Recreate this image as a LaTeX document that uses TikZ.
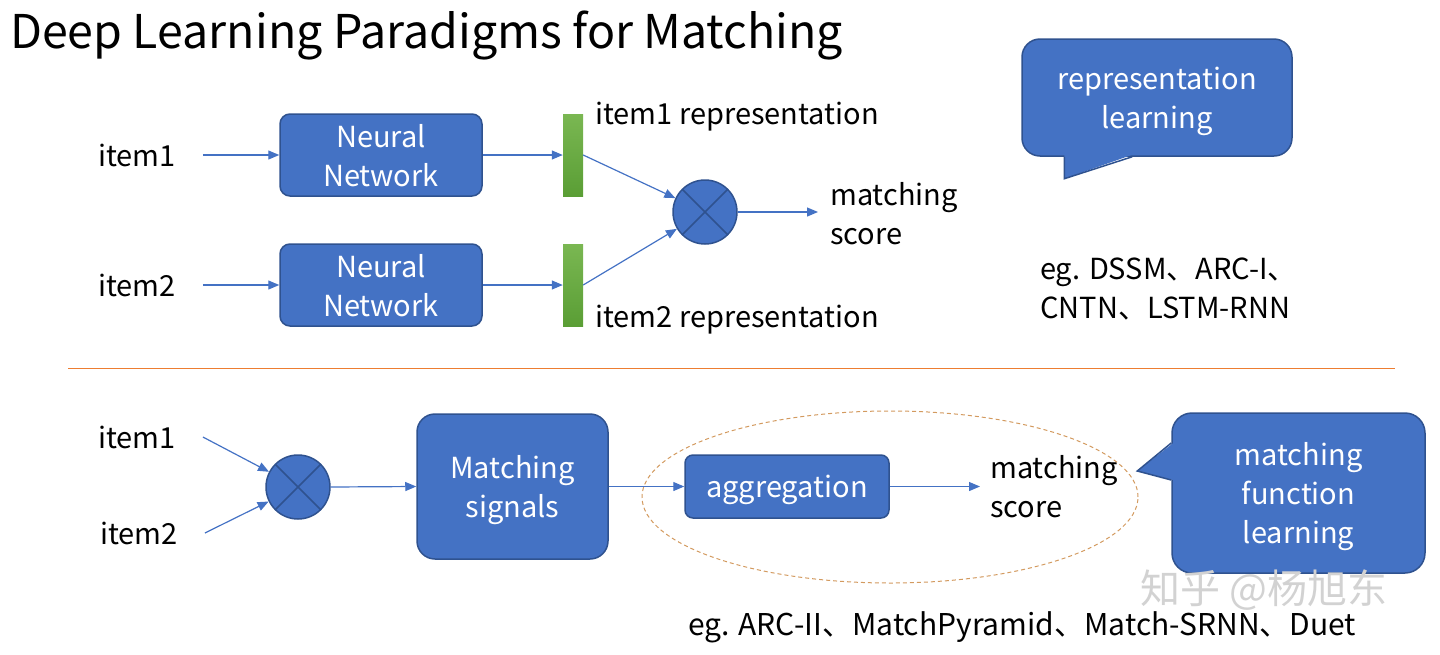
\documentclass[tikz,border=0pt]{standalone}
\usepackage{fontspec}
\setmainfont{Noto Sans CJK SC}
\usetikzlibrary{arrows.meta,calc,shapes.geometric}
\definecolor{boxblue}{HTML}{4472C4}
\definecolor{boxedge}{HTML}{2F528F}
\definecolor{barlight}{HTML}{7AB752}
\definecolor{bardark}{HTML}{5A9E35}
\definecolor{sepline}{HTML}{ED7D31}
\definecolor{zoneline}{HTML}{D39A5F}

\begin{document}
\begin{tikzpicture}[
    x=1pt, y=-1pt,
    txt/.style={inner sep=0pt, font=\fontsize{29}{39}\selectfont, align=left},
    box/.style={draw=boxedge, line width=1.5pt, fill=boxblue, rounded corners=10pt, text=white, align=center, font=\fontsize{29}{39}\selectfont, inner sep=0pt, text depth=0pt},
    bar/.style={top color=barlight, bottom color=bardark, draw=none, minimum width=20pt, minimum height=82pt, inner sep=0pt},
    mult/.style={circle, draw=boxedge, line width=1.5pt, fill=boxblue, minimum size=64pt, inner sep=0pt,
        path picture={\draw[boxedge, line width=1.5pt] (path picture bounding box.north west) -- (path picture bounding box.south east)
        (path picture bounding box.north east) -- (path picture bounding box.south west);}},
    arrow/.style={draw=boxblue, line width=1.2pt, -{Triangle[length=11pt,width=9pt]}}
]
\useasboundingbox (0,0) rectangle (1440,654);

% Title
\node[txt, anchor=base west, font=\fontsize{46.5}{56}\selectfont] (title) at (10,48) {Deep Learning Paradigms for Matching};

% Representation learning
\node[txt, anchor=west] (itema1) at (98,155) {item1};
\node[txt, anchor=west] (itema2) at (98,285) {item2};
\node[box, minimum width=202pt, minimum height=82pt] (nna1) at (381,155) {Neural\\Network};
\node[box, minimum width=202pt, minimum height=82pt] (nna2) at (381,285) {Neural\\Network};
\node[bar] (bara1) at (573,155) {};
\node[bar] (bara2) at (573,285) {};
\node[txt, anchor=west] (repa1) at (595,117) {item1 representation};
\node[txt, anchor=west] (repa2) at (595,320) {item2 representation};
\node[mult] (multa) at (705,212) {};
\node[txt, anchor=west] (scorea) at (830,214) {matching\\score};

\draw[arrow] ([xshift=27pt]itema1.east) -- (nna1.west);
\draw[arrow] ([xshift=27pt]itema2.east) -- (nna2.west);
\draw[arrow] (nna1.east) -- (bara1.west);
\draw[arrow] (nna2.east) -- (bara2.west);
\draw[arrow] (bara1.east) -- (multa);
\draw[arrow] (bara2.east) -- (multa);
\draw[arrow] (multa.east) -- ([xshift=-12pt]scorea.west |- multa.east);

% Callout
\node[box, rounded corners=18pt, minimum width=270pt, minimum height=117pt] (replearn) at (1157,97.5) {representation\\learning};
\fill[boxblue] ($(replearn.south west)+(43,-2)$) -- ($(replearn.south west)+(43,22)$) -- ($(replearn.south west)+(111,-2)$) -- cycle;
\draw[boxedge, line width=1.5pt] ($(replearn.south west)+(43,0)$) -- ($(replearn.south west)+(43,22)$) -- ($(replearn.south west)+(111,0)$);

\node[txt, anchor=west] (ega) at (1040,289) {eg. DSSM、ARC-I、\\CNTN、LSTM-RNN};

% Separador
\draw[sepline, line width=1pt] (68,368) -- (1395,368);

% Matching function learning
\node[txt, anchor=west] (itemb1) at (98,437) {item1};
\node[txt, anchor=west] (itemb2) at (100,533) {item2};
\node[mult] (multb) at (298,487) {};
\node[box, rounded corners=18pt, minimum width=191pt, minimum height=145pt] (signals) at (512.5,486.5) {Matching\\signals};
\node[box, rounded corners=8pt, minimum width=204pt, minimum height=63pt] (aggr) at (787,486.5) {aggregation};
\node[txt, anchor=west] (scoreb) at (990,487) {matching\\score};
\node[ellipse, draw=zoneline, dash pattern=on 4pt off 3pt, line width=1pt, minimum width=496pt, minimum height=172pt] (aggzone) at (890,497) {};

\draw[arrow] ([xshift=27pt]itemb1.east) -- (multb);
\draw[arrow] ([xshift=27pt]itemb2.east) -- (multb);
\draw[arrow] (multb.east) -- (signals.west);
\draw[arrow] (signals.east) -- (aggr.west);
\draw[arrow] (aggr.east) -- ([xshift=-10pt]scoreb.west |- aggr.east);

% Callout
\node[box, rounded corners=20pt, minimum width=253pt, minimum height=160pt] (funclearn) at (1298.5,493) {matching\\function\\learning};
\fill[boxblue] ($(funclearn.west)+(2,-50)$) -- ($(funclearn.west)+(-34,-22)$) -- ($(funclearn.west)+(2,-13)$) -- cycle;
\draw[boxedge, line width=1.5pt] ($(funclearn.west)+(0,-50)$) -- ($(funclearn.west)+(-34,-22)$) -- ($(funclearn.west)+(0,-13)$);

\node[txt, anchor=west, font=\fontsize{30}{39}\selectfont] (egb) at (688,627) {eg. ARC-II、MatchPyramid、Match-SRNN、Duet};

\node[txt, anchor=west, text=gray!35, font=\fontsize{40}{40}\selectfont] (mark) at (1140,590) {知乎 @杨旭东};

\end{tikzpicture}
\end{document}
